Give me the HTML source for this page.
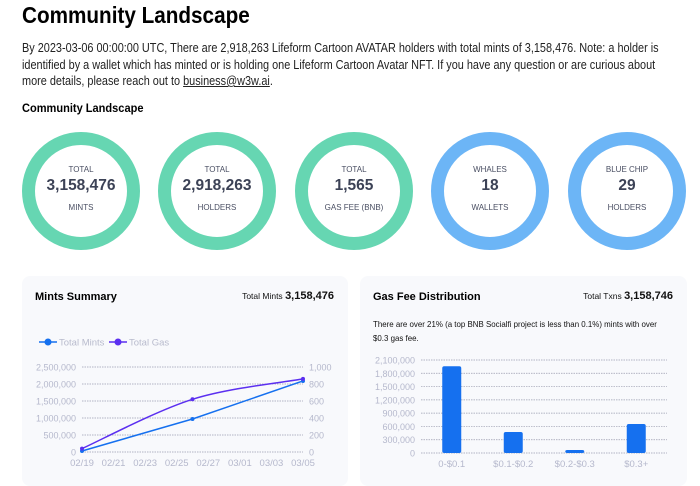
<!DOCTYPE html>
<html><head><meta charset="utf-8">
<style>
body{margin:0;width:700px;height:473px;overflow:hidden;background:#fff;font-family:"Liberation Sans",sans-serif;position:relative;color:#111}
.abs{position:absolute}
h1{position:absolute;left:22px;top:0;margin:0;font-size:23px;font-weight:bold;line-height:30px;color:#000;transform:scaleX(0.9);transform-origin:0 0;white-space:nowrap}
.para{left:22px;top:40px;width:762px;font-size:12.6px;line-height:16.5px;color:#222;transform:scaleX(0.865);transform-origin:0 0}
.para u{color:#222}
.sub{left:22px;top:101px;font-size:12px;font-weight:bold;color:#000;transform:scaleX(0.92);transform-origin:0 0}
.ring{position:absolute;width:92px;height:92px;border-radius:50%;border:13px solid #66d6b2;text-align:center;color:#4a4f63}
.ring.blue{border-color:#6cb5f6}
.ring .l1{position:absolute;top:20px;width:100%;font-size:8px}
.ring .num{position:absolute;top:32px;width:100%;font-size:15.5px;font-weight:bold;color:#3c4256}
.ring .l2{position:absolute;top:58px;width:100%;font-size:8px}
.card{position:absolute;top:276px;height:210px;background:#f8f9fc;border-radius:8px}
.ct{font-size:11px;font-weight:bold;color:#000}
.tot{font-size:8.5px;color:#111}
.tot b{font-size:11px}
</style></head><body>
<h1>Community Landscape</h1>
<div class="abs para">By 2023-03-06 00:00:00 UTC, There are 2,918,263 Lifeform Cartoon AVATAR holders with total mints of 3,158,476. Note: a holder is identified by a wallet which has minted or is holding one Lifeform Cartoon Avatar NFT. If you have any question or are curious about more details, please reach out to <u>business@w3w.ai</u>.</div>
<div class="abs sub">Community Landscape</div>

<div class="ring" style="left:22px;top:132px"><div class="l1">TOTAL</div><div class="num">3,158,476</div><div class="l2">MINTS</div></div>
<div class="ring" style="left:158px;top:132px"><div class="l1">TOTAL</div><div class="num">2,918,263</div><div class="l2">HOLDERS</div></div>
<div class="ring" style="left:295px;top:132px"><div class="l1">TOTAL</div><div class="num">1,565</div><div class="l2">GAS FEE (BNB)</div></div>
<div class="ring blue" style="left:431px;top:132px"><div class="l1">WHALES</div><div class="num">18</div><div class="l2">WALLETS</div></div>
<div class="ring blue" style="left:568px;top:132px"><div class="l1">BLUE CHIP</div><div class="num">29</div><div class="l2">HOLDERS</div></div>

<div class="card" style="left:22px;width:326px">
 <div class="abs ct" style="left:13px;top:15px">Mints Summary</div>
 <div class="abs tot" style="right:14px;top:14px">Total Mints <b>3,158,476</b></div>
</div>
<div class="card" style="left:360px;width:327px">
 <div class="abs ct" style="left:13px;top:15px">Gas Fee Distribution</div>
 <div class="abs tot" style="right:14px;top:14px">Total Txns <b>3,158,746</b></div>
 <div class="abs" style="left:13px;top:41px;width:330px;font-size:8.6px;line-height:14px;color:#111;transform:scaleX(0.92);transform-origin:0 0">There are over 21% (a top BNB Socialfi project is less than 0.1%) mints with over<br>$0.3 gas fee.</div>
</div>

<svg class="abs" style="left:0;top:0" width="700" height="473" id="charts"></svg>
<script>
const lineDates=['02/19','02/21','02/23','02/25','02/27','03/01','03/03','03/05'];
const pointDays=[0,7,14];
const mintsValues=[30000,970000,2090000];
const gasValues=[40,620,860];
const leftTicks=[0,500000,1000000,1500000,2000000,2500000];
const rightTicks=[0,200,400,600,800,1000];
const barCats=['0-$0.1','$0.1-$0.2','$0.2-$0.3','$0.3+'];
const barValues=[1960000,474000,68000,655000];
const barTicks=[0,300000,600000,900000,1200000,1500000,1800000,2100000];

const svg=document.getElementById('charts');
const NS='http://www.w3.org/2000/svg';
function mk(t,a,txt){const e=document.createElementNS(NS,t);for(const k in a)e.setAttribute(k,a[k]);if(txt!==undefined)e.textContent=txt;svg.appendChild(e);return e;}
const fmt=v=>v.toLocaleString('en-US');
const axisCol='#b5b8cc';

const x0=82,x1=303,y0=452,y1=367;
const xd=d=>x0+(x1-x0)*d/14;
const yl=v=>y0-(y0-y1)*v/2500000;
const yr=v=>y0-(y0-y1)*v/1000;
leftTicks.forEach((t,i)=>{
 const y=yl(t);
 let g=mk('line',{x1:x0,x2:x1,y1:y,y2:y,stroke:'#9a9db0','stroke-width':0.7,'stroke-dasharray':'1.5 1'});
 
 let a=mk('text',{x:x0-6,y:y+3.5,'text-anchor':'end','font-size':9,fill:axisCol},fmt(t));
 
 let b=mk('text',{x:x1+6,y:yr(rightTicks[i])+3.5,'font-size':9,fill:axisCol},fmt(rightTicks[i]));
 
});
lineDates.forEach((d,i)=>{
 let t=mk('text',{x:xd(i*2),y:466,'text-anchor':'middle','font-size':9.5,fill:axisCol},d);
 
});
function smooth(pts){
 let d='M'+pts[0][0]+','+pts[0][1];
 for(let i=0;i<pts.length-1;i++){
  const p0=pts[i-1]||pts[i],p1=pts[i],p2=pts[i+1],p3=pts[i+2]||p2;
  const c1=[p1[0]+(p2[0]-p0[0])/6,p1[1]+(p2[1]-p0[1])/6],c2=[p2[0]-(p3[0]-p1[0])/6,p2[1]-(p3[1]-p1[1])/6];
  d+=` C${c1},${c2},${p2}`;
 }
 return d;
}
const mp=pointDays.map((d,i)=>[xd(d),yl(mintsValues[i])]);
const gp=pointDays.map((d,i)=>[xd(d),yr(gasValues[i])]);
let ml=mk('path',{d:'M'+mp.map(p=>p.join(',')).join(' L'),fill:'none',stroke:'#1570ef','stroke-width':1.5});

let gl=mk('path',{d:smooth(gp),fill:'none',stroke:'#5b2ff0','stroke-width':1.5});

mp.forEach(p=>{let c=mk('circle',{cx:p[0],cy:p[1],r:2,fill:'#1570ef'});});
gp.forEach(p=>{let c=mk('circle',{cx:p[0],cy:p[1],r:2,fill:'#5b2ff0'});});
[['Total Mints','#1570ef',39],['Total Gas','#5b2ff0',109]].forEach(([n,c,x])=>{
 let l=mk('line',{x1:x,x2:x+18,y1:342,y2:342,stroke:c,'stroke-width':1.5});
 
 let ci=mk('circle',{cx:x+9,cy:342,r:3.5,fill:c});
 
 let t=mk('text',{x:x+20,y:345.5,'font-size':9.5,fill:'#b8bbcd'},n);
 
});

const bx0=421,bx1=667,by0=453,by1=360;
const yb=v=>by0-(by0-by1)*v/2100000;
const bw=(bx1-bx0)/barCats.length;
barTicks.forEach(t=>{
 const y=yb(t);
 let g=mk('line',{x1:bx0,x2:bx1,y1:y,y2:y,stroke:'#9a9db0','stroke-width':0.7,'stroke-dasharray':'1.5 1'});
 
 let a=mk('text',{x:bx0-6,y:y+3.5,'text-anchor':'end','font-size':9,fill:axisCol},fmt(t));
 
});
barCats.forEach((c,i)=>{
 const cx=bx0+bw*(i+0.5),y=yb(barValues[i]);
 let r=mk('rect',{x:cx-9.5,y:y,width:19,height:by0-y,rx:2,fill:'#1570ef'});
 
 let t=mk('text',{x:cx,y:467,'text-anchor':'middle','font-size':9.5,fill:axisCol},c);
 
});
</script>
</body></html>
